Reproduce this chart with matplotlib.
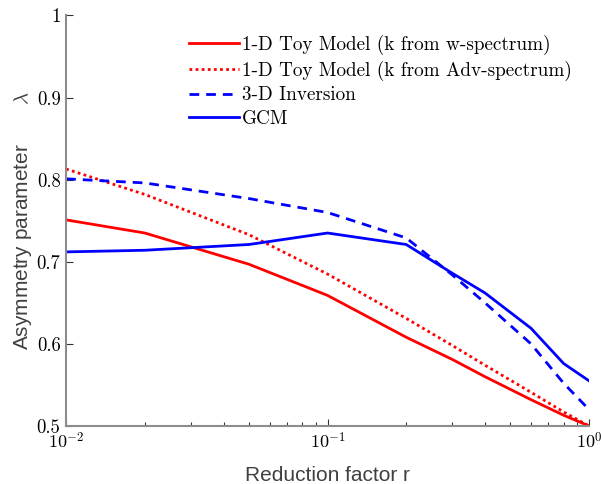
import numpy as np
import matplotlib
matplotlib.use('Agg')
import matplotlib.pyplot as plt

plt.rcParams['mathtext.fontset'] = 'cm'

# reduction factor r
r = [0.01, 0.02, 0.05, 0.1, 0.2, 0.3, 0.4, 0.6, 0.8, 1.0]

# asymmetry parameter lambda
toy_w = [0.751, 0.735, 0.697, 0.659, 0.608, 0.581, 0.560, 0.532, 0.513, 0.500]
toy_adv = [0.813, 0.782, 0.733, 0.685, 0.631, 0.598, 0.574, 0.541, 0.517, 0.500]
inversion = [0.801, 0.796, 0.777, 0.760, 0.729, 0.684, 0.650, 0.600, 0.552, 0.520]
gcm = [0.712, 0.714, 0.721, 0.735, 0.721, 0.686, 0.662, 0.619, 0.576, 0.555]

labels = ['1-D Toy Model (k from w-spectrum)',
          '1-D Toy Model (k from Adv-spectrum)',
          '3-D Inversion',
          'GCM']

yticks = [0.5, 0.6, 0.7, 0.8, 0.9, 1.0]
ytick_labels = ['0.5', '0.6', '0.7', '0.8', '0.9', '1']
xticks = [0.01, 0.1, 1.0]
xtick_labels = ['$10^{-2}$', '$10^{-1}$', '$10^{0}$']

fig = plt.figure(figsize=(6.01, 4.84), dpi=100)
ax = fig.add_axes([0.110, 0.120, 0.870, 0.848])

lw = 2
ax.plot(r, toy_w, color='#ff0000', lw=lw, label=labels[0])
ax.plot(r, toy_adv, color='#ff0000', lw=lw, linestyle=(0, (1, 1.2)), label=labels[1])
ax.plot(r, inversion, color='#0000ff', lw=lw, linestyle=(0, (3.5, 2.5)), label=labels[2])
ax.plot(r, gcm, color='#0000ff', lw=lw, label=labels[3])

ax.set_xscale('log')
ax.set_xlim(0.01, 1)
ax.set_ylim(0.5, 1)
ax.set_xticks(xticks)
ax.set_xticklabels(xtick_labels, fontsize=13)
ax.set_yticks(yticks)
ax.set_yticklabels(ytick_labels, family='cmr10', fontsize=13.5)

for s in ['top', 'right']:
    ax.spines[s].set_visible(False)
for s in ['left', 'bottom']:
    ax.spines[s].set_color('#8c8c8c')
    ax.spines[s].set_linewidth(1.5)

ax.tick_params(which='both', direction='in', colors='#333333', labelcolor='black')
ax.tick_params(axis='x', pad=4)
ax.tick_params(axis='y', pad=4)
ax.tick_params(which='major', length=5, width=0.8)
ax.tick_params(which='minor', length=3, width=0.8)

ax.set_xlabel('Reduction factor r', fontsize=15, color='#404040',
              family='Liberation Sans', labelpad=10)
ax.set_ylabel('Asymmetry parameter       $\\lambda$', fontsize=15, color='#404040',
              family='Liberation Sans', labelpad=2)

leg = ax.legend(loc='upper left', bbox_to_anchor=(0.22, 0.972), frameon=False,
                prop={'family': 'cmr10', 'size': 13.8}, handlelength=2.6,
                handletextpad=0.15, labelspacing=0.3, borderaxespad=0)

fig.savefig('out.png', dpi=100)
